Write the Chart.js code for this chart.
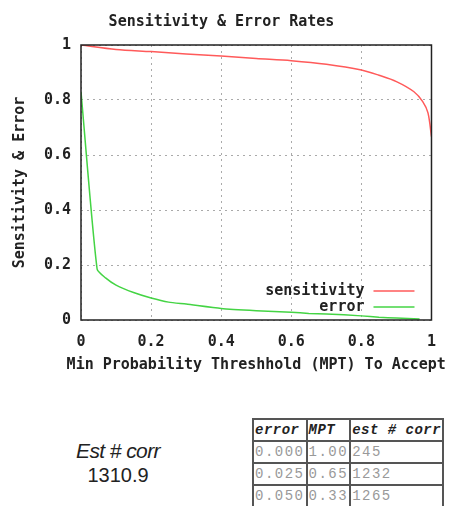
<!DOCTYPE html>
<html>
<head>
<meta charset="utf-8">
<script src="https://cdn.jsdelivr.net/npm/chart.js@4"></script>
<style>
  body { margin: 0; background: #fff; width: 449px; height: 506px; overflow: hidden; position: relative; }
  #wrap { position: absolute; left: 0; top: 0; width: 449px; height: 380px; }
  #est { position: absolute; left: 48px; top: 439px; width: 140px; text-align: center;
         font-family: "Liberation Sans", Arial, sans-serif; color: #222; line-height: 24px; }
  #est .lab { font-style: italic; font-size: 21px; letter-spacing: -0.6px; }
  #est .val { font-size: 20px; }
  table { position: absolute; left: 252px; top: 418px; border-collapse: collapse;
          font-family: "Liberation Mono", monospace; font-size: 14px; letter-spacing: 1.5px; }
  td, th { border: 2px solid #555; height: 20px; padding: 0 1px; text-align: left; }
  th { font-style: italic; font-weight: bold; color: #222; letter-spacing: 0.5px; }
  td { color: #999; }
</style>
</head>
<body>
<div id="wrap"><canvas id="errChart"></canvas></div>
<div id="est"><div class="lab">Est # corr</div><div class="val">1310.9</div></div>
<table id="tbl"></table>
<script>
// values
const sensX = [0, 0.1, 0.2, 0.3, 0.4, 0.5, 0.6, 0.7, 0.8, 0.85, 0.9, 0.95, 0.975, 0.99, 1.0];
const sensY = [1.0, 0.984, 0.976, 0.967, 0.96, 0.951, 0.943, 0.93, 0.909, 0.89, 0.867, 0.83, 0.794, 0.753, 0.667];
const errX = [0, 0.046, 0.07, 0.1, 0.15, 0.2, 0.25, 0.3, 0.4, 0.5, 0.6, 0.65, 0.7, 0.8, 0.85, 0.9, 0.966];
const errY = [0.83, 0.185, 0.153, 0.127, 0.1, 0.08, 0.065, 0.058, 0.042, 0.034, 0.028, 0.024, 0.022, 0.015, 0.01, 0.007, 0.004];
const yTicks = ['0', '0.2', '0.4', '0.6', '0.8', '1'];
const xTitle = 'Min Probability Threshhold (MPT) To Accept';
const tableHead = ['error', 'MPT', 'est # corr'];
const tableRows = [['0.000', '1.00', '245'], ['0.025', '0.65', '1232'], ['0.050', '0.33', '1265']];

const tbl = document.getElementById('tbl');
let html = '<tr>' + tableHead.map(h => '<th>' + h + '</th>').join('') + '</tr>';
tableRows.forEach(r => { html += '<tr>' + r.map(c => '<td>' + c + '</td>').join('') + '</tr>'; });
tbl.innerHTML = html;

const monoBold = { family: '"DejaVu Sans Mono", monospace', size: 15, weight: 'bold' };

// gnuplot style box, legend inside the plot and the x title
// (chart.js squeezes axis titles to the axis width, gnuplot doesn't)
const boxPlugin = {
    id: 'box',
    afterDatasetsDraw(chart) {
        const c = chart.ctx, a = chart.chartArea;
        c.save();
        c.strokeStyle = '#222';
        c.lineWidth = 1.5;
        c.strokeRect(a.left, a.top, a.right - a.left, a.bottom - a.top);
        c.font = 'bold 15px "DejaVu Sans Mono", monospace';
        c.textBaseline = 'middle';
        c.fillStyle = '#222';
        c.textAlign = 'center';
        c.fillText(xTitle, (a.left + a.right) / 2, a.bottom + 45);
        // legend
        c.textAlign = 'right';
        chart.data.datasets.forEach((ds, i) => {
            const y = a.bottom - 29 + i * 16;
            c.fillStyle = '#222';
            c.fillText(ds.label, a.right - 67, y);
            c.strokeStyle = ds.borderColor;
            c.lineWidth = 1.5;
            c.beginPath();
            c.moveTo(a.right - 58, y);
            c.lineTo(a.right - 17, y);
            c.stroke();
        });
        c.restore();
    }
};

new Chart(document.getElementById('errChart').getContext('2d'), {
    type: 'line',
    data: {
        datasets: [{
            label: 'sensitivity',
            data: sensX.map((x, i) => ({ x: x, y: sensY[i] })),
            borderColor: '#ff5a5a',
            borderWidth: 1.5,
            pointRadius: 0,
            tension: 0.3,
            fill: false
        },
        {
            label: 'error',
            data: errX.map((x, i) => ({ x: x, y: errY[i] })),
            borderColor: '#44d444',
            borderWidth: 1.5,
            pointRadius: 0,
            tension: 0.2,
            fill: false
        }]
    },
    options: {
        responsive: true,
        maintainAspectRatio: false,
        animation: false,
        layout: { padding: { left: 11, right: 17, top: 0, bottom: 0 } },
        plugins: {
            legend: { display: false },
            tooltip: { enabled: false },
            title: {
                display: true,
                text: 'Sensitivity & Error Rates',
                color: '#222',
                font: monoBold,
                padding: { top: 13, bottom: 14 }
            }
        },
        scales: {
            x: {
                type: 'linear',
                min: 0,
                max: 1,
                afterFit: s => { s.height = 60; },
                ticks: { stepSize: 0.2, padding: 13, color: '#222', font: monoBold, maxRotation: 0,
                         callback: v => yTicks[Math.round(v * 5)] },
                grid: { color: '#aaa', drawTicks: false },
                border: { display: false, dash: [2, 4] }
            },
            y: {
                min: 0,
                max: 1,
                afterFit: s => { s.width = 70; },
                ticks: { stepSize: 0.2, padding: 10, color: '#222', font: monoBold,
                         callback: v => yTicks[Math.round(v * 5)] },
                grid: { color: '#aaa', drawTicks: false },
                border: { display: false, dash: [2, 4] },
                title: { display: true, text: 'Sensitivity & Error', color: '#222',
                         font: monoBold, padding: { top: 0, bottom: 4 } }
            }
        }
    },
    plugins: [boxPlugin]
});
</script>
</body>
</html>
